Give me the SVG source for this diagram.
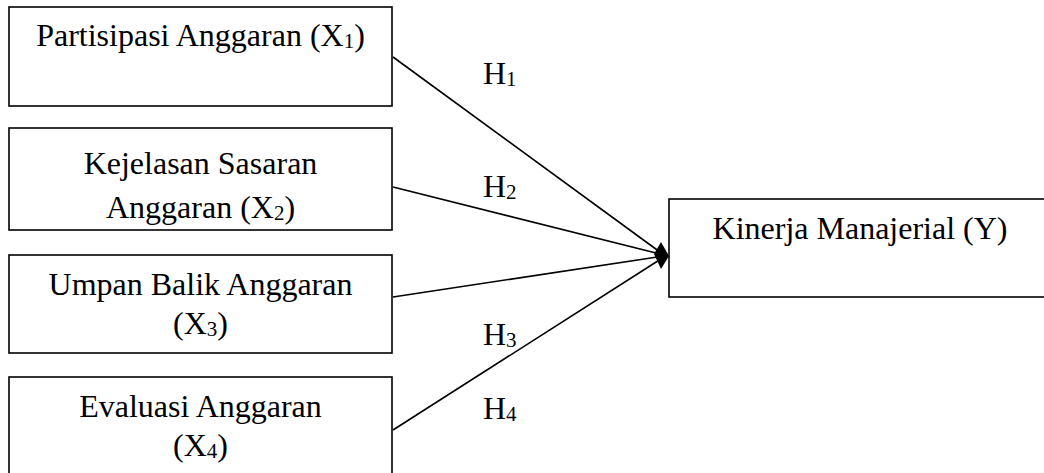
<svg xmlns="http://www.w3.org/2000/svg" width="1044" height="473" viewBox="0 0 1044 473">
<style>
.box{fill:#fff;stroke:#000;stroke-width:1.6}
.t{font-family:"Liberation Serif","Times New Roman",serif;font-size:32px;fill:#000}
.s{font-size:21px}
.c{stroke:#000;stroke-width:1.6;fill:none}
</style>
<rect width="1044" height="473" fill="#fff"/>
<g id="connectors">
<line class="c" x1="393" y1="57" x2="664" y2="255"/>
<line class="c" x1="393" y1="187" x2="664" y2="255"/>
<line class="c" x1="393" y1="297" x2="664" y2="256"/>
<line class="c" x1="393" y1="430" x2="664" y2="257"/>
<path d="M654,254 L661,242 L669,256 L661,269 Z" fill="#000"/>
<text class="t" x="483" y="84">H<tspan class="s" dy="2">1</tspan></text>
<text class="t" x="483" y="197">H<tspan class="s" dy="2">2</tspan></text>
<text class="t" x="483" y="345">H<tspan class="s" dy="2">3</tspan></text>
<text class="t" x="483" y="419">H<tspan class="s" dy="2">4</tspan></text>
</g>
<g id="x1">
<rect class="box" x="9" y="7" width="383" height="99"/>
<text class="t" x="200.5" y="46" text-anchor="middle">Partisipasi Anggaran (X<tspan class="s" dy="2">1</tspan><tspan dy="-2">)</tspan></text>
</g>
<g id="x2">
<rect class="box" x="9" y="128" width="383" height="102"/>
<text class="t" x="200.5" y="174" text-anchor="middle">Kejelasan Sasaran</text>
<text class="t" x="200.5" y="218" text-anchor="middle">Anggaran (X<tspan class="s" dy="2">2</tspan><tspan dy="-2">)</tspan></text>
</g>
<g id="x3">
<rect class="box" x="9" y="255" width="383" height="98"/>
<text class="t" x="200.5" y="295" text-anchor="middle">Umpan Balik Anggaran</text>
<text class="t" x="200.5" y="334" text-anchor="middle">(X<tspan class="s" dy="2">3</tspan><tspan dy="-2">)</tspan></text>
</g>
<g id="x4">
<rect class="box" x="9" y="377" width="383" height="110"/>
<text class="t" x="200.5" y="417" text-anchor="middle">Evaluasi Anggaran</text>
<text class="t" x="200.5" y="456" text-anchor="middle">(X<tspan class="s" dy="2">4</tspan><tspan dy="-2">)</tspan></text>
</g>
<g id="y">
<rect class="box" x="669" y="199" width="390" height="98"/>
<text class="t" x="860" y="239" text-anchor="middle">Kinerja Manajerial (Y)</text>
</g>
</svg>
